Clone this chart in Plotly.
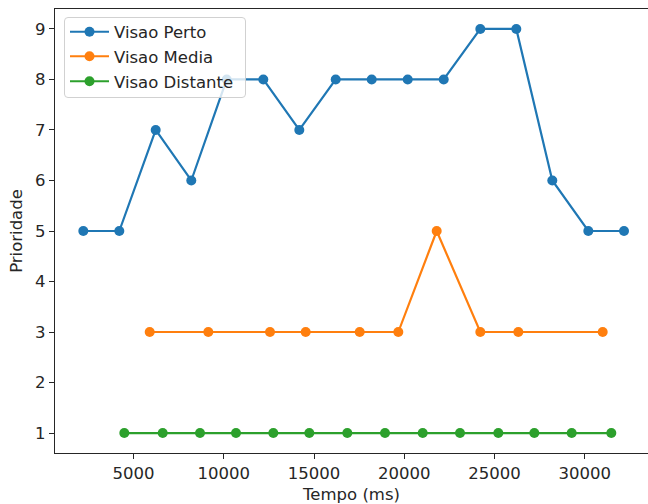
import plotly.graph_objects as go

# Tempo (ms) e prioridade de cada visao
perto_t = [2216, 4211, 6228, 8200, 10162, 12190, 14184, 16201, 18196, 20191,
           22185, 24213, 26208, 28203, 30197, 32175]
perto_p = [5, 5, 7, 6, 8, 8, 7, 8, 8, 8, 8, 9, 9, 6, 5, 5]

media_t = [5895, 9142, 12561, 14539, 17531, 19670, 21797, 24213, 26319, 30995]
media_p = [3, 3, 3, 3, 3, 3, 5, 3, 3, 3]

distante_t = [4488, 6616, 8682, 10677, 12744, 14739, 16844, 18933, 21022,
              23089, 25211, 27206, 29278, 31472]
distante_p = [1] * len(distante_t)

x_ticks = [5000, 10000, 15000, 20000, 25000, 30000]
y_ticks = [1, 2, 3, 4, 5, 6, 7, 8, 9]

series = [
    ("Visao Perto", perto_t, perto_p, "#1f77b4"),
    ("Visao Media", media_t, media_p, "#ff7f0e"),
    ("Visao Distante", distante_t, distante_p, "#2ca02c"),
]

FONT = "DejaVu Sans"
FS = 16.5
W, H = 648, 504
L, R, T, B = 55, 0, 9, 51
PW, PH = W - L - R, H - T - B


def px_x(p):
    return (p - L) / PW


def px_y(p):
    return 1 - (p - T) / PH


# one legend per series so every row sits at its own height
legend_rows = [31, 55.5, 80.5]
legend_ids = ["legend", "legend2", "legend3"]

fig = go.Figure()
for (name, xs, ys, color), lid in zip(series, legend_ids):
    fig.add_trace(go.Scatter(
        x=xs, y=ys, name=name, mode="lines+markers",
        line=dict(color=color, width=2.2),
        marker=dict(color=color, size=10),
        legend=lid,
    ))

# legend frame with rounded corners, semi-transparent like the default style
x0, x1 = px_x(64.5), px_x(245.5)
y0, y1 = px_y(97.5), px_y(17.5)
rx, ry = 3.5 / PW, 3.5 / PH
path = (
    f"M {x0 + rx},{y1} L {x1 - rx},{y1} Q {x1},{y1} {x1},{y1 - ry} "
    f"L {x1},{y0 + ry} Q {x1},{y0} {x1 - rx},{y0} "
    f"L {x0 + rx},{y0} Q {x0},{y0} {x0},{y0 + ry} "
    f"L {x0},{y1 - ry} Q {x0},{y1} {x0 + rx},{y1} Z"
)
fig.add_shape(type="path", path=path, xref="paper", yref="paper",
              fillcolor="rgba(255,255,255,0.8)",
              line=dict(color="rgba(204,204,204,0.9)", width=1),
              layer="above")

axis_common = dict(
    showgrid=False, zeroline=False, showline=True,
    linecolor="#262626", linewidth=1.2,
    ticks="outside", ticklen=5, tickwidth=1.1, tickcolor="#262626",
    tickfont=dict(family=FONT, size=FS, color="#262626"),
)

legend_style = dict(
    xanchor="left", yanchor="top",
    bgcolor="rgba(0,0,0,0)", borderwidth=0,
    font=dict(family=FONT, size=FS, color="#262626"),
    itemwidth=39,
)

fig.update_layout(
    width=W, height=H,
    margin=dict(l=L, r=R, t=T, b=B, pad=0),
    paper_bgcolor="white", plot_bgcolor="white",
    font=dict(family=FONT, size=FS, color="#262626"),
    xaxis=dict(
        range=[648, 33505], tickvals=x_ticks,
        ticktext=[str(v) for v in x_ticks], mirror=True,
        title=dict(text="Tempo (ms)", standoff=6,
                   font=dict(family=FONT, size=FS, color="#262626")),
        **axis_common,
    ),
    yaxis=dict(
        range=[0.605, 9.395], tickvals=y_ticks,
        ticktext=[str(v) for v in y_ticks],
        title=dict(text="Prioridade", standoff=8,
                   font=dict(family=FONT, size=FS, color="#262626")),
        **axis_common,
    ),
    showlegend=True,
)
for lid, row in zip(legend_ids, legend_rows):
    fig.update_layout({lid: dict(x=px_x(65), y=px_y(row - 16.5), **legend_style)})

fig.write_html("out.html")
